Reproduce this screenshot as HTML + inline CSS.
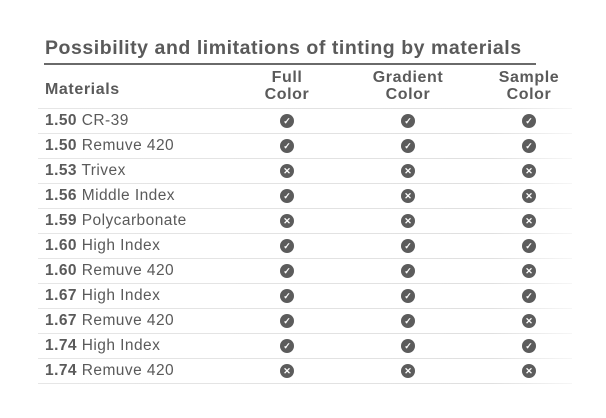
<!DOCTYPE html><html><head><style>
body{margin:0;width:606px;height:418px;background:#fff;font-family:"Liberation Sans",sans-serif;color:#5a5a5a;position:relative;overflow:hidden}
.t{position:absolute;left:45px;top:37px;font-size:19.5px;font-weight:bold;letter-spacing:0.55px;white-space:nowrap}
.hl{position:absolute;left:44px;top:63px;width:492px;height:2px;background:#6a6a6a}
.h{position:absolute;font-weight:bold;font-size:16px;letter-spacing:0.6px;text-align:center;line-height:17px}
.sep{position:absolute;left:38px;width:534px;height:1px;background:linear-gradient(90deg,#e6e6e6,#e0e0e0 85%,#f6f6f6)}
.r{position:absolute;left:45px;font-size:15.5px;letter-spacing:0.45px;white-space:nowrap;line-height:18px}
.r b{font-weight:bold}
.i{position:absolute;width:14px;height:14px;border-radius:50%;background:#5c5c5c;color:#fff;font-size:9px;line-height:14px;text-align:center;font-weight:bold}
</style></head><body>
<div class="t">Possibility and limitations of tinting by materials</div>
<div class="hl"></div>
<div class="h" style="left:45px;top:81px;text-align:left">Materials</div>
<div class="h" style="left:247px;width:80px;top:69px">Full<br>Color</div>
<div class="h" style="left:358px;width:100px;top:69px">Gradient<br>Color</div>
<div class="h" style="left:479px;width:100px;top:69px">Sample<br>Color</div>
<div id="rows"></div>
<script>
var d=[["1.50","CR-39","111"],["1.50","Remuve 420","111"],["1.53","Trivex","000"],["1.56","Middle Index","100"],["1.59","Polycarbonate","000"],["1.60","High Index","111"],["1.60","Remuve 420","110"],["1.67","High Index","111"],["1.67","Remuve 420","110"],["1.74","High Index","111"],["1.74","Remuve 420","000"]];
var h="",xs=[287,408,529];
for(var k=0;k<12;k++)h+='<div class="sep" style="top:'+(108+25*k)+'px"></div>';
d.forEach(function(r,i){var c=121+25*i;h+='<div class="r" style="top:'+(c-9)+'px"><b>'+r[0]+'</b> '+r[1]+'</div>';
for(var j=0;j<3;j++)h+='<div class="i" style="left:'+(xs[j]-7)+'px;top:'+(c-7)+'px">'+(r[2][j]=="1"?"✓":"✕")+'</div>';});
document.getElementById("rows").innerHTML=h;
</script>
</body></html>
